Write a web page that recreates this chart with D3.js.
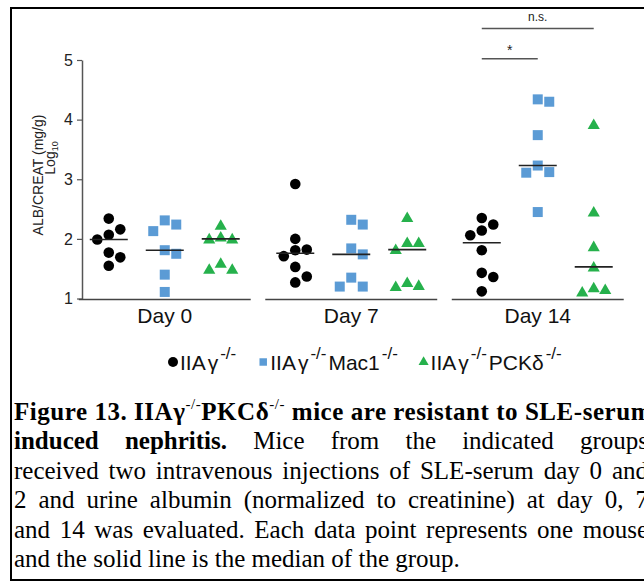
<!DOCTYPE html>
<html>
<head>
<meta charset="utf-8">
<script src="https://cdn.jsdelivr.net/npm/d3@7"></script>
<style>
  html, body { margin: 0; padding: 0; background: #fff; }
  svg { display: block; }
</style>
</head>
<body>
<svg id="chart" width="644" height="582"></svg>
<script>
var days = ['Day 0', 'Day 7', 'Day 14'];
var groups = ['ko', 'mac1', 'pkcd'];
var tickValues = [1, 2, 3, 4, 5];

// log10 ALB/CREAT, one inner array per day
var koValues = [
  [2.34, 2.07, 2.16, 1.99, 1.77, 1.69, 1.55],
  [2.92, 2.00, 1.81, 1.82, 1.71, 1.53, 1.37, 1.27],
  [2.35, 2.24, 2.14, 2.06, 1.81, 1.43, 1.36, 1.12]
];
var mac1Values = [
  [2.24, 2.13, 2.31, 1.75, 1.81, 1.40, 1.11],
  [2.24, 2.32, 1.84, 1.74, 1.35, 1.20, 1.20],
  [4.34, 4.30, 3.74, 3.23, 3.12, 3.11, 2.45]
];
var pkcdValues = [
  [2.23, 2.00, 2.03, 2.00, 1.59, 1.49, 1.49],
  [2.36, 1.94, 1.94, 1.82, 1.27, 1.20, 1.22],
  [3.92, 2.45, 1.87, 1.53, 1.18, 1.11, 1.15]
];

// [text, superscript] pieces
var legendLabels = [
  [['IIA', ''], ['γ', '-/-']],
  [['IIA', ''], ['γ', '-/-'], ['Mac1', '-/-']],
  [['IIA', ''], ['γ', '-/-'], ['PCKδ', '-/-']]
];

var sigBars = [
  {day: 'Day 14', from: 'ko', to: 'pkcd', label: 'n.s.', level: 5.53},
  {day: 'Day 14', from: 'ko', to: 'mac1', label: '*', level: 5.02}
];

var captionTitle = [['Figure 13. IIAγ', '-/-'], ['PKCδ', '-/-'], [' mice are resistant to SLE-serum', '']];
var captionLines = [
  {bold: 2, text: 'induced nephritis. Mice from the indicated groups'},
  {bold: 0, text: 'received two intravenous injections of SLE-serum day 0 and'},
  {bold: 0, text: '2 and urine albumin (normalized to creatinine) at day 0, 7'},
  {bold: 0, text: 'and 14 was evaluated. Each data point represents one mouse'},
  {bold: 0, text: 'and the solid line is the median of the group.', last: true}
];

var sans = '"Liberation Sans", Arial, sans-serif';
var serif = '"Liberation Serif", "Times New Roman", serif';

var series = {ko: koValues, mac1: mac1Values, pkcd: pkcdValues};
var colors = {ko: '#000000', mac1: '#5b9bd5', pkcd: '#26b14c'};
var shapes = {ko: d3.symbolCircle, mac1: d3.symbolSquare, pkcd: d3.symbolTriangle};
var sizes = {ko: 88, mac1: 100, pkcd: 64};

var svg = d3.select('#chart');

var y = d3.scaleLinear().domain([1, 5]).range([298.5, 60]);
var x = d3.scaleBand().domain(days).range([71.5, 631])
  .paddingInner(0.078).paddingOuter(0.039);
var xg = d3.scalePoint().domain(groups).range([0, x.bandwidth()]).padding(0.536);

function cx(day, g) { return x(day) + xg(g); }

// simple beeswarm: top to bottom, try centre then alternate sides
function swarm(values, minDist, step) {
  var placed = [], offsets = new Array(values.length);
  var order = values.map(function(v, i) { return i; })
    .sort(function(a, b) { return values[b] - values[a]; });
  order.forEach(function(i) {
    var py = y(values[i]);
    for (var k = 0; k < 9; k++) {
      var dx = k === 0 ? 0 : Math.ceil(k / 2) * step * (k % 2 ? 1 : -1);
      var hit = placed.some(function(p) {
        var a = p[0] - dx, b = p[1] - py;
        return a * a + b * b < minDist * minDist;
      });
      if (!hit) { offsets[i] = dx; placed.push([dx, py]); break; }
    }
  });
  return offsets;
}

// text with raised pieces; parts = [[text, sup], ...]
function supText(sel, parts, supSize, rise, gap) {
  var raised = false;
  parts.forEach(function(p, i) {
    sel.append('tspan')
      .attr('dx', i > 0 ? gap : 0)
      .attr('dy', raised ? rise : 0)
      .text(p[0]);
    raised = false;
    if (p[1]) {
      sel.append('tspan')
        .attr('class', 'sup')
        .attr('font-size', supSize)
        .attr('dx', gap)
        .attr('dy', -rise)
        .text(p[1]);
      raised = true;
    }
  });
}

// frame of the document box
svg.append('path')
  .attr('d', 'M660,8H11V580H660')
  .attr('fill', 'none').attr('stroke', '#000').attr('stroke-width', 2);

// y axis
var yAxis = svg.append('g')
  .attr('transform', 'translate(82,0)')
  .call(d3.axisLeft(y).tickValues(tickValues).tickSize(5).tickSizeOuter(0)
    .tickPadding(4).tickFormat(d3.format('d')));
yAxis.select('.domain').attr('stroke', '#555').attr('stroke-width', 1.5);
yAxis.selectAll('.tick line').attr('stroke', '#555').attr('stroke-width', 1.2);
yAxis.selectAll('.tick text')
  .attr('font-family', sans).attr('font-size', 16).attr('fill', '#222');

// y title
svg.append('text')
  .attr('transform', 'translate(43,175) rotate(-90)')
  .attr('text-anchor', 'middle')
  .attr('font-family', sans).attr('font-size', 14).attr('fill', '#222')
  .text('ALB/CREAT (mg/g)');
var logT = svg.append('text')
  .attr('transform', 'translate(55,158) rotate(-90)')
  .attr('text-anchor', 'middle')
  .attr('font-family', sans).attr('font-size', 14).attr('fill', '#222');
logT.append('tspan').text('Log');
logT.append('tspan').attr('font-size', 9).attr('dy', 3).text('10');

// x axis segments + day labels
days.forEach(function(day) {
  svg.append('line')
    .attr('x1', x(day)).attr('x2', x(day) + x.bandwidth())
    .attr('y1', 299.5).attr('y2', 299.5)
    .attr('stroke', '#444').attr('stroke-width', 1.5);
  svg.append('text')
    .attr('x', x(day) + x.bandwidth() / 2).attr('y', 323)
    .attr('text-anchor', 'middle')
    .attr('font-family', sans).attr('font-size', 21).attr('fill', '#111')
    .text(day);
});

// points, then median lines on top
var marks = svg.append('g');
var medians = svg.append('g');
days.forEach(function(day, di) {
  groups.forEach(function(g) {
    var vals = series[g][di];
    var off = swarm(vals, 11, 11.5);
    var sym = d3.symbol().type(shapes[g]).size(sizes[g]);
    marks.selectAll(null)
      .data(vals)
      .enter().append('path')
      .attr('d', sym)
      .attr('fill', colors[g])
      .attr('transform', function(v, i) {
        var dy = g === 'pkcd' ? 1 : 0;
        return 'translate(' + (cx(day, g) + off[i]) + ',' + (y(v) + dy) + ')';
      });
    var m = d3.median(vals);
    medians.append('line')
      .attr('x1', cx(day, g) - 19).attr('x2', cx(day, g) + 19)
      .attr('y1', y(m)).attr('y2', y(m))
      .attr('stroke', '#222').attr('stroke-width', 1.6);
  });
});

// significance bars
sigBars.forEach(function(s) {
  var x1 = cx(s.day, s.from), x2 = cx(s.day, s.to);
  svg.append('line')
    .attr('x1', x1).attr('x2', x2)
    .attr('y1', y(s.level)).attr('y2', y(s.level))
    .attr('stroke', '#555').attr('stroke-width', 1.5);
  svg.append('text')
    .attr('x', (x1 + x2) / 2).attr('y', y(s.level) - (s.label === '*' ? 4 : 7))
    .attr('text-anchor', 'middle')
    .attr('font-family', sans).attr('font-size', s.label === '*' ? 14 : 12)
    .attr('fill', '#222')
    .text(s.label);
});

// legend
var lx = 168, ly = 370;
groups.forEach(function(g, gi) {
  var item = svg.append('g').attr('transform', 'translate(' + lx + ',0)');
  var symSize = g === 'ko' ? 78 : (g === 'mac1' ? 56 : 44);
  item.append('path')
    .attr('d', d3.symbol().type(shapes[g]).size(symSize))
    .attr('fill', colors[g])
    .attr('transform', 'translate(5,' + (ly - 8) + ')');
  var t = item.append('text')
    .attr('x', 12).attr('y', ly)
    .attr('font-family', sans).attr('font-size', 21).attr('fill', '#111');
  supText(t, legendLabels[gi], 17, 11, 2);
  lx += item.node().getBBox().width + 22;
});

// caption
var capX = 14, capRight = 648, capY = 420, capStep = 29.4, capSize = 25;
var title = svg.append('text')
  .attr('x', capX).attr('y', capY)
  .attr('font-family', serif).attr('font-size', capSize)
  .attr('font-weight', 'bold').attr('fill', '#000');
supText(title, captionTitle, 15, 11, 0);
title.selectAll('tspan.sup').attr('font-weight', 'normal');
var titleW = title.node().getComputedTextLength();
var titleChars = captionTitle.map(function(p) { return p[0] + p[1]; }).join('').length;
title.attr('letter-spacing', Math.max(0, (capRight + 4 - capX - titleW) / titleChars));

captionLines.forEach(function(line, li) {
  var by = capY + capStep * (li + 1);
  var words = line.text.split(' ');
  var nodes = words.map(function(w, wi) {
    return svg.append('text')
      .attr('y', by)
      .attr('font-family', serif).attr('font-size', capSize)
      .attr('font-weight', wi < line.bold ? 'bold' : 'normal')
      .attr('fill', '#000')
      .text(w);
  });
  var widths = nodes.map(function(n) { return n.node().getComputedTextLength(); });
  var total = d3.sum(widths);
  var gap = line.last ? capSize * 0.25 : (capRight - capX - total) / (words.length - 1);
  var px = capX;
  nodes.forEach(function(n, i) {
    n.attr('x', px);
    px += widths[i] + gap;
  });
});
</script>
</body>
</html>
